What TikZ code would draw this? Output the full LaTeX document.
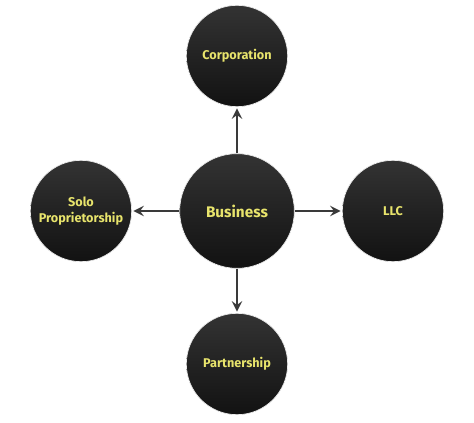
\documentclass[tikz,border=0pt]{standalone}
\usepackage{fontspec}
\setmainfont{Fira Sans}
\usetikzlibrary{arrows.meta}
\definecolor{labelyellow}{HTML}{E8E46C}
\definecolor{arrowgray}{HTML}{3A3A3A}
\begin{document}
\begin{tikzpicture} [
                x=0.75pt, y=-0.75pt,
                vertex/.style={circle,top color=black!80,bottom color=black!93,
                    draw=black!8,line width=0.5pt,minimum size=76pt,inner sep=0pt,
                    text=labelyellow,font=\bfseries\fontsize{9.5}{12.5}\selectfont,align=center},
                hub/.style={vertex,minimum size=86pt,font=\bfseries\fontsize{11.5}{13}\selectfont},
                arrow edge/.style = {draw,arrowgray,line width=2pt,-{Stealth[length=8pt,width=8pt,inset=3pt]},shorten >=1pt},
            ]
            \useasboundingbox (0,0) rectangle (474,423);
            \node[hub] (business) at (237,211) {Business};
            \foreach \pos/\name/\txt in {
            {(237,56)/corp/Corporation}, {(81,211)/solo/Solo\\Proprietorship},
            {(393,211)/llc/LLC}, {(237,364)/part/Partnership}}
                \node[vertex] (\name) at \pos {\txt};
            \foreach \dest in {corp,solo,llc,part}
                \path[arrow edge] (business) -- (\dest);
        \end{tikzpicture}
\end{document}
